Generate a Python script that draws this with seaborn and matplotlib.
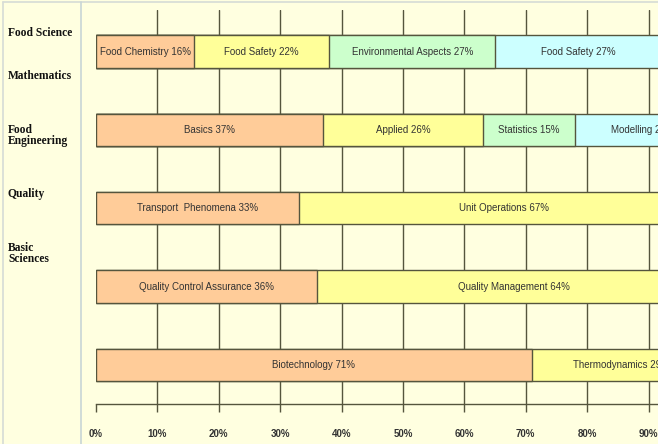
import matplotlib
matplotlib.use("Agg")
import matplotlib.pyplot as plt
import seaborn as sns
import pandas as pd
import numpy as np
from matplotlib.lines import Line2D

# ---------------- data ----------------
rows = ["r1", "r2", "r3", "r4", "r5"]
seg_names = [
    ["Food Chemistry", "Food Safety", "Environmental Aspects", "Food Safety"],
    ["Basics", "Applied", "Statistics", "Modelling"],
    ["Transport  Phenomena", "Unit Operations"],
    ["Quality Control Assurance", "Quality Management"],
    ["Biotechnology", "Thermodynamics"],
]
seg_values = [
    [16, 22, 27, 27],
    [37, 26, 15, 22],
    [33, 67],
    [36, 64],
    [71, 29],
]
side_labels = ["Food Science", "Mathematics", "Food\nEngineering", "Quality", "Basic\nSciences"]
x_ticks = [0, 10, 20, 30, 40, 50, 60, 70, 80, 90]
tick_labels = [f"{t}%" for t in x_ticks]

layer_colors = ["#FFCC99", "#FFFF99", "#CCFFCC", "#CCFFFF"]
edge_col = "#55553d"
bg = "#FFFFE0"

# long table with cumulative ends
recs = []
for r, names, vals in zip(rows, seg_names, seg_values):
    cum = 0
    for k, (n, v) in enumerate(zip(names, vals)):
        recs.append(dict(row=r, layer=k, name=n, value=v, start=cum, end=cum + v))
        cum += v
df = pd.DataFrame(recs)

sns.set_theme(style="white")
plt.rcParams["font.family"] = ["Liberation Sans", "DejaVu Sans"]

W, H = 658, 444
fig = plt.figure(figsize=(W / 100, H / 100), dpi=100, facecolor=bg)

# axes geometry in pixels
ax_l, ax_r, ax_t, ax_b = 96, 658, 10, 404
ax = fig.add_axes([ax_l / W, 1 - ax_b / H, (ax_r - ax_l) / W, (ax_b - ax_t) / H])
ax.set_facecolor(bg)

for k in reversed(range(4)):
    sub = df[df.layer == k]
    sns.barplot(data=sub, x="end", y="row", order=rows, orient="h",
                color=layer_colors[k], saturation=1, width=0.41,
                edgecolor=edge_col, linewidth=1.0, ax=ax, zorder=3)

for _, rec in df.iterrows():
    yi = rows.index(rec["row"])
    ax.text((rec["start"] + rec["end"]) / 2, yi, f"{rec['name']} {rec['value']}%",
            ha="center", va="center", fontsize=7.0, color="#333333",
            zorder=5, clip_on=True)

ax.set_xlim(0, (ax_r - ax_l) / 6.14)
ax.set_ylim(4.5, -0.53)
ax.set_xticks(x_ticks)
ax.set_xticklabels(tick_labels, fontsize=7, fontweight="bold", color="#333333")
ax.set_yticks([])
ax.set_xlabel("")
ax.set_ylabel("")
ax.xaxis.grid(True, color=edge_col, linewidth=1.0, zorder=0)
ax.set_axisbelow(True)
ax.get_xgridlines()[0].set_visible(False)
ax.tick_params(axis="x", direction="out", length=5.8, width=1, color=edge_col,
               pad=12, bottom=True)
for s in ["top", "right", "left"]:
    ax.spines[s].set_visible(False)
ax.spines["bottom"].set_color(edge_col)
ax.spines["bottom"].set_linewidth(1.0)

# frame / separator lines
fig.add_artist(Line2D([3 / W, 3 / W], [0, 1 - 2 / H], transform=fig.transFigure,
                      color="#d6dcd6", lw=1.2))
fig.add_artist(Line2D([3 / W, 1], [1 - 2 / H, 1 - 2 / H], transform=fig.transFigure,
                      color="#d6dcd6", lw=1.2))
fig.add_artist(Line2D([81 / W, 81 / W], [0, 1 - 2 / H], transform=fig.transFigure,
                      color="#c8d6d6", lw=1.2))

# side labels
label_y = [33, 76, 135.5, 194, 253.5]
for lab, yy in zip(side_labels, label_y):
    fig.text(8 / W, 1 - yy / H, lab, ha="left", va="center", fontsize=8.3,
             fontweight="bold", family=["Liberation Serif", "DejaVu Serif"],
             color="#111111", linespacing=0.95)

fig.savefig("out.png", dpi=100, facecolor=bg)
